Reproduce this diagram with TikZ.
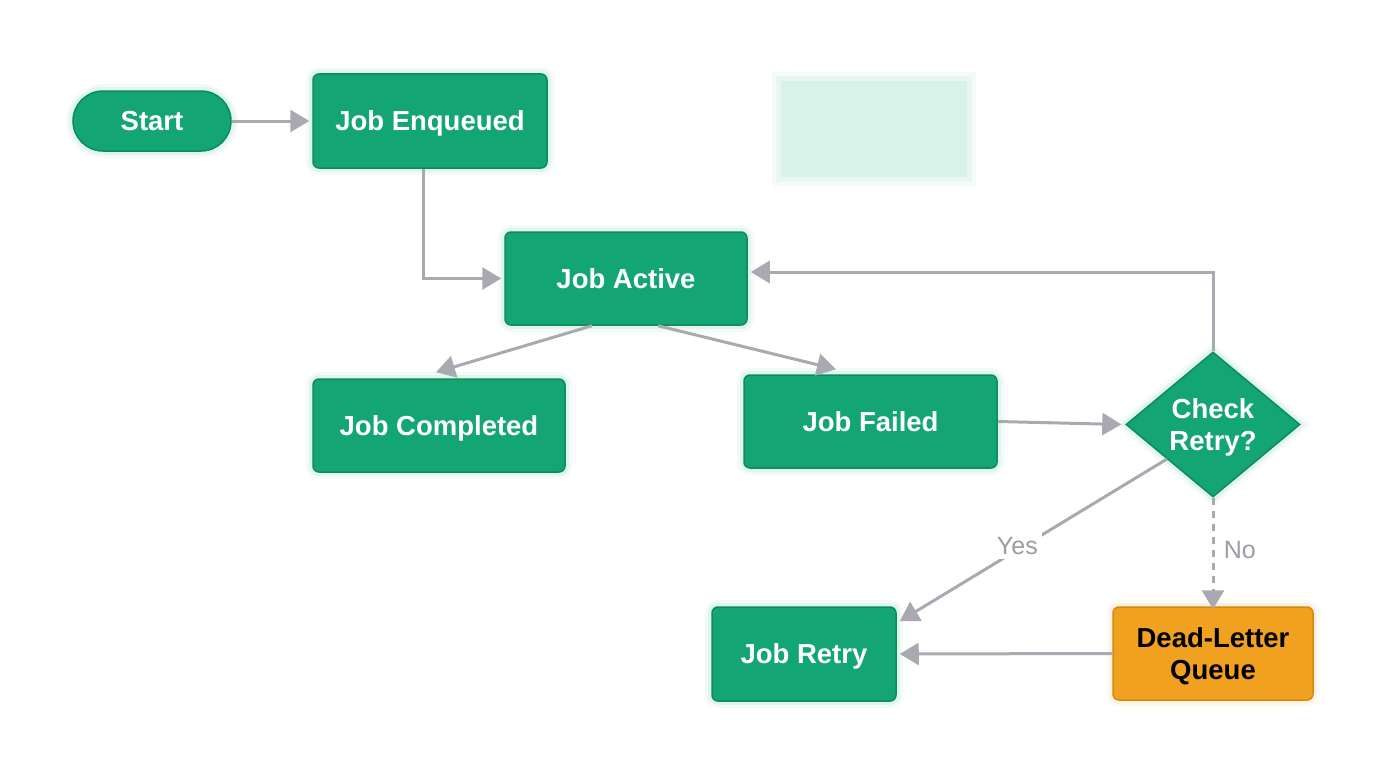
\documentclass[tikz,border=0pt]{standalone}
\usepackage{fontspec}
\setmainfont{Liberation Sans}
\usetikzlibrary{arrows.meta,shapes.geometric,calc}
\definecolor{nodegreen}{HTML}{13A574}
\definecolor{nodeborder}{HTML}{0D8A5E}
\definecolor{glowgreen}{HTML}{8FE0C0}
\definecolor{dlqfill}{HTML}{F0A11F}
\definecolor{dlqborder}{HTML}{D4880E}
\definecolor{dlqglow}{HTML}{F7D49A}
\definecolor{edgegray}{HTML}{A9AAB1}
\definecolor{labelgray}{HTML}{9C9DA4}
\definecolor{mint}{HTML}{D7F2E9}
\tikzset{
  glow/.style={preaction={draw=#1,line width=14pt,opacity=0.10},
               preaction={draw=#1,line width=8pt,opacity=0.18}},
  nodefont/.style={font=\fontsize{27.5}{32}\selectfont\bfseries},
  boxgreen/.style={draw=nodeborder,line width=1.5pt,fill=nodegreen,rounded corners=6pt,
     text=white,nodefont,align=center,inner sep=0pt,text height=19.7pt,text depth=0pt,glow=glowgreen},
  stadium/.style={boxgreen,rounded corners=30pt},
  decision/.style={diamond,draw=nodeborder,line width=1.5pt,fill=nodegreen,inner sep=0pt,glow=glowgreen},
  dtext/.style={text=white,nodefont,align=center},
  boxorange/.style={draw=dlqborder,line width=1.5pt,fill=dlqfill,rounded corners=6pt,
     inner sep=0pt,glow=dlqglow},
  otext/.style={text=black,nodefont,align=center},
  flow/.style={draw=edgegray,line width=3pt,-{Triangle[length=19pt,width=22pt]}},
  elabel/.style={text=labelgray,font=\fontsize{25}{28}\selectfont},
}
\begin{document}
\begin{tikzpicture}[x=1pt,y=-1pt]
\useasboundingbox[fill=white] (0,0) rectangle (1376,768);

% faint placeholder rectangle (soft edges)
\fill[mint,opacity=0.25] (772,72) rectangle (976,186);
\fill[mint,opacity=0.4] (776,76) rectangle (972,182);
\fill[mint] (781,81) rectangle (967,177);

\node[stadium,minimum width=158,minimum height=60] (start) at (152,121) {Start};
\node[boxgreen,minimum width=234,minimum height=94] (enq) at (430,121) {Job Enqueued};
\node[boxgreen,minimum width=242,minimum height=93] (act) at (626,278.5) {Job Active};
\node[boxgreen,minimum width=252,minimum height=93] (comp) at (439,425.5) {Job Completed};
\node[boxgreen,minimum width=253,minimum height=93] (fail) at (870.5,421.5) {Job Failed};
\node[decision,minimum width=174,minimum height=145] (chk) at (1213,424.5) {};
\node[dtext] (chktext) at ($(chk.center)+(0,2.5)$) {Check\\Retry?};
\node[boxgreen,minimum width=184,minimum height=94] (retry) at (804,654) {Job Retry};
\node[boxorange,minimum width=200,minimum height=93] (dlq) at (1213,653.5) {};
\node[otext] (dlqtext) at ($(dlq.center)+(0,2.5)$) {Dead-Letter\\Queue};

\coordinate (enqout) at ($(enq.south)+(-7,0)$);
\coordinate (actout1) at ($(act.south)+(-34,0)$);
\coordinate (compin) at ($(comp.north)+(-3,-6)$);
\coordinate (actout2) at ($(act.south)+(32,0)$);
\coordinate (failin) at ($(fail.north)+(-34.5,-5)$);
\coordinate (actin) at ($(act.east)+(3,-6.5)$);
\coordinate (yesout) at (1167,459);
\coordinate (retryin) at ($(retry.north east)+(3,15)$);

\draw[flow] (start.east) -- ([xshift=-3pt]enq.west);
\draw[flow] (enqout) |- ([xshift=-3pt]act.west);
\draw[flow] (actout1) -- (compin);
\draw[flow] (actout2) -- (failin);
\draw[flow] (fail.east) -- ([xshift=-4pt]chk.west);
\draw[flow] (chk.north) |- (actin);
\draw[flow] (yesout) -- node[pos=0.56,fill=white,elabel,inner sep=4pt,yshift=4pt] (yes) {Yes} (retryin);
\draw[flow,dash pattern=on 7pt off 6pt] (chk.south) -- node[right,elabel,pos=0.47,xshift=6pt] (no) {No} ([yshift=-3pt]dlq.north);
\draw[flow] (dlq.west) -- ([xshift=3pt]retry.east);
\end{tikzpicture}
\end{document}
